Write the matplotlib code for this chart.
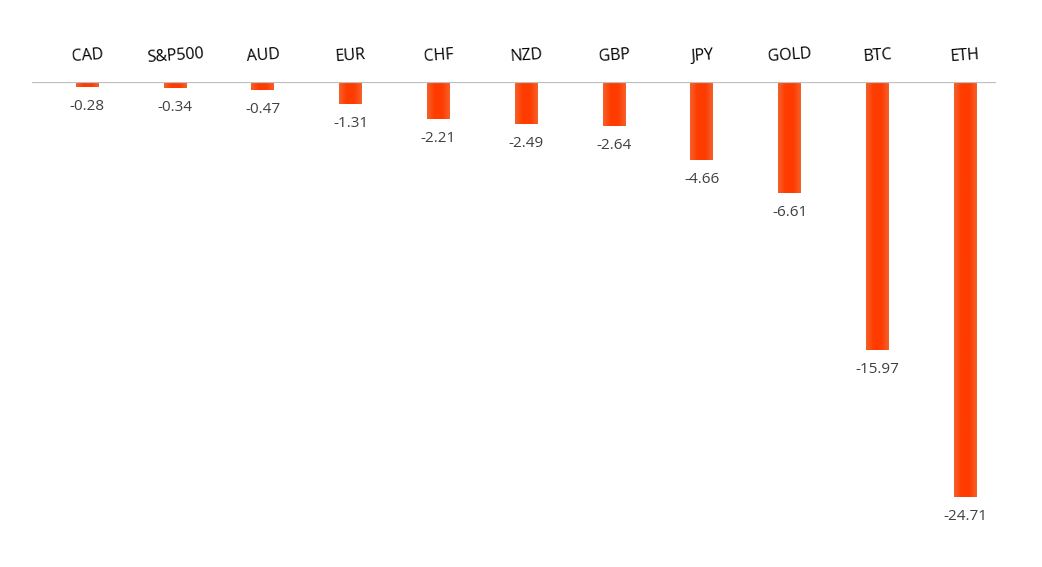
import numpy as np
import matplotlib.pyplot as plt
from matplotlib.colors import LinearSegmentedColormap
import matplotlib.transforms as mtransforms

labels = ['CAD', 'S&P500', 'AUD', 'EUR', 'CHF', 'NZD', 'GBP', 'JPY', 'GOLD', 'BTC', 'ETH']
changes = [-0.28, -0.34, -0.47, -1.31, -2.21, -2.49, -2.64, -4.66, -6.61, -15.97, -24.71]

plt.rcParams['font.family'] = ['Open Sans', 'DejaVu Sans']

fig = plt.figure(figsize=(10.42, 5.67), dpi=100)
ax = fig.add_axes([32 / 1042, 20 / 567, 964 / 1042, 465 / 567])

ind = np.arange(len(labels))
width = 0.26
bars = ax.bar(ind, changes, width, color='#FF4208', edgecolor='none')

# slight horizontal gradient inside each bar
cmap = LinearSegmentedColormap.from_list('bar', ['#F5602A', '#FF3C00', '#FF3C00', '#F5602A'])
grad = np.linspace(0, 1, 64).reshape(1, -1)
for b in bars:
    x0, y0 = b.get_x(), b.get_y()
    im = ax.imshow(grad, cmap=cmap, aspect='auto',
                   extent=[x0, x0 + b.get_width(), y0, y0 + b.get_height()],
                   zorder=2)
    im.set_clip_path(b)

ax.set_xlim(-0.63, 10.35)
ax.set_ylim(-465 / 16.8, 0)
ax.axhline(0, color='#BFBFBF', lw=1.6, zorder=3)

trans = mtransforms.blended_transform_factory(ax.transData, ax.transAxes)
for i, lab in enumerate(labels):
    ax.annotate(lab, (i, 1.0), xycoords=trans, xytext=(0, 19), textcoords='offset points',
                ha='center', va='center', fontsize=11.5, color='#000000',
                rotation=4, annotation_clip=False)

for i, v in enumerate(changes):
    ax.annotate('%.2f' % v, (i, v), xytext=(0, -14), textcoords='offset points',
                ha='center', va='center', fontsize=11, color='#404040')

for s in ax.spines.values():
    s.set_visible(False)
ax.set_xticks([])
ax.set_yticks([])

fig.savefig('out.png', dpi=100)
